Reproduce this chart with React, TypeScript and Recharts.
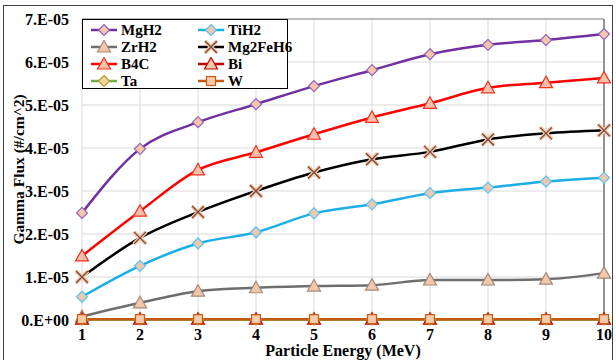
import React from 'react';
import { LineChart, Line, XAxis, YAxis, CartesianGrid, Legend, ReferenceLine } from 'recharts';

const energies = [1, 2, 3, 4, 5, 6, 7, 8, 9, 10];
const mgh2 = [2.49e-5, 3.98e-5, 4.6e-5, 5.02e-5, 5.44e-5, 5.81e-5, 6.18e-5, 6.4e-5, 6.51e-5, 6.65e-5];
const tih2 = [0.54e-5, 1.26e-5, 1.78e-5, 2.04e-5, 2.48e-5, 2.69e-5, 2.95e-5, 3.08e-5, 3.22e-5, 3.31e-5];
const zrh2 = [0.08e-5, 0.4e-5, 0.67e-5, 0.75e-5, 0.79e-5, 0.81e-5, 0.93e-5, 0.93e-5, 0.95e-5, 1.09e-5];
const mg2feh6 = [1.0e-5, 1.91e-5, 2.51e-5, 3.0e-5, 3.43e-5, 3.74e-5, 3.91e-5, 4.2e-5, 4.34e-5, 4.41e-5];
const b4c = [1.49e-5, 2.53e-5, 3.49e-5, 3.9e-5, 4.32e-5, 4.71e-5, 5.04e-5, 5.4e-5, 5.52e-5, 5.63e-5];
const bi = [2e-7, 2e-7, 2e-7, 2e-7, 2e-7, 2e-7, 2e-7, 2e-7, 2e-7, 2e-7];
const ta = [1e-7, 1e-7, 1e-7, 1e-7, 1e-7, 1e-7, 1e-7, 1e-7, 1e-7, 1e-7];
const w = [2e-7, 2e-7, 2e-7, 2e-7, 2e-7, 2e-7, 2e-7, 2e-7, 2e-7, 2e-7];

const yTicks = [0, 1e-5, 2e-5, 3e-5, 4e-5, 5e-5, 6e-5, 7e-5];
const yTickLabels = ['0.E+00', '1.E-05', '2.E-05', '3.E-05', '4.E-05', '5.E-05', '6.E-05', '7.E-05'];

type Shape = 'diamond' | 'triangle' | 'x' | 'square';

const series: { name: string; values: number[]; color: string; shape: Shape; mFill: string; mStroke: string }[] = [
  { name: 'MgH2', values: mgh2, color: '#7030A0', shape: 'diamond', mFill: '#F4C7A8', mStroke: '#9460C4' },
  { name: 'TiH2', values: tih2, color: '#1AAEE6', shape: 'diamond', mFill: '#E9C9B2', mStroke: '#5EC2EA' },
  { name: 'ZrH2', values: zrh2, color: '#6E6E6E', shape: 'triangle', mFill: '#F4C7A8', mStroke: '#A08A7C' },
  { name: 'Mg2FeH6', values: mg2feh6, color: '#000000', shape: 'x', mFill: '#F4C7A8', mStroke: '#7A4A3A' },
  { name: 'B4C', values: b4c, color: '#FF0000', shape: 'triangle', mFill: '#F8C0A8', mStroke: '#F03020' },
  { name: 'Bi', values: bi, color: '#C00000', shape: 'triangle', mFill: '#F4C7A8', mStroke: '#C00000' },
  { name: 'Ta', values: ta, color: '#70AD47', shape: 'diamond', mFill: '#F2D39B', mStroke: '#B89A30' },
  { name: 'W', values: w, color: '#C55A11', shape: 'square', mFill: '#F8CBAD', mStroke: '#C55A11' },
];

const data = energies.map((e, i) => {
  const row: Record<string, number> = { e };
  series.forEach((s) => {
    row[s.name] = s.values[i];
  });
  return row;
});

function Marker({ cx, cy, shape, fill, stroke }: { cx: number; cy: number; shape: Shape; fill: string; stroke: string }) {
  if (shape === 'diamond') {
    const r = 5.5;
    return (
      <polygon
        points={`${cx},${cy - r} ${cx + r},${cy} ${cx},${cy + r} ${cx - r},${cy}`}
        fill={fill}
        stroke={stroke}
        strokeWidth={1.2}
      />
    );
  }
  if (shape === 'triangle') {
    return (
      <polygon
        points={`${cx},${cy - 6.5} ${cx + 6.5},${cy + 5} ${cx - 6.5},${cy + 5}`}
        fill={fill}
        stroke={stroke}
        strokeWidth={1.2}
      />
    );
  }
  if (shape === 'square') {
    return <rect x={cx - 4.5} y={cy - 4.5} width={9} height={9} fill={fill} stroke={stroke} strokeWidth={1.2} />;
  }
  const r = 6;
  return (
    <g>
      <path d={`M${cx - r},${cy - r}L${cx + r},${cy + r}M${cx - r},${cy + r}L${cx + r},${cy - r}`} stroke={fill} strokeWidth={4} />
      <path d={`M${cx - r},${cy - r}L${cx + r},${cy + r}M${cx - r},${cy + r}L${cx + r},${cy - r}`} stroke={stroke} strokeWidth={1.4} />
    </g>
  );
}

const makeDot = (s: (typeof series)[number]) => (props: any) => {
  const { cx, cy, index } = props;
  if (cx == null || cy == null) return <g key={index} />;
  return <Marker key={index} cx={cx} cy={cy} shape={s.shape} fill={s.mFill} stroke={s.mStroke} />;
};

const font = "'Liberation Serif', 'Times New Roman', 'DejaVu Serif', serif";

const LegendBox = () => (
  <div
    style={{
      width: 206,
      height: 70,
      boxSizing: 'border-box',
      border: '1px solid #000',
      background: '#fff',
      position: 'relative',
      fontFamily: font,
      fontWeight: 'bold',
      fontSize: 15,
      color: '#000',
    }}
  >
    {series.map((s, i) => {
      const col = i % 2;
      const row = Math.floor(i / 2);
      return (
        <div
          key={s.name}
          style={{
            position: 'absolute',
            left: col === 0 ? 7 : 114,
            top: 2 + row * 17,
            height: 16,
            display: 'flex',
            alignItems: 'center',
            lineHeight: '16px',
          }}
        >
          <svg width={28} height={14} style={{ display: 'block' }}>
            <line x1={1} y1={7} x2={27} y2={7} stroke={s.color} strokeWidth={2.5} />
            <Marker cx={14} cy={7} shape={s.shape} fill={s.mFill} stroke={s.mStroke} />
          </svg>
          <span style={{ marginLeft: 3 }}>{s.name}</span>
        </div>
      );
    })}
  </div>
);

const YLabel = (props: any) => {
  const vb = props.viewBox || { x: 0, y: 19, width: 82, height: 301 };
  const cx = 18;
  const cy = vb.y + vb.height / 2;
  return (
    <text
      x={cx}
      y={cy}
      transform={`rotate(-90 ${cx} ${cy})`}
      textAnchor="middle"
      dominantBaseline="central"
      style={{ fontFamily: font, fontWeight: 'bold', fontSize: 15.5 }}
      fill="#000"
    >
      Gamma Flux (#/cm^2)
    </text>
  );
};

const tickStyle = { fill: '#000', fontSize: 16, fontWeight: 'bold', fontFamily: font, style: { fontFamily: font } };

export default function App() {
  return (
    <div style={{ position: 'absolute', left: 0, top: 0, width: 616, height: 360, background: '#fff', overflow: 'hidden', fontFamily: font }}>
      <div
        style={{
          position: 'absolute',
          left: 3,
          top: 5,
          width: 610,
          height: 360,
          border: '1px solid #404040',
          boxSizing: 'border-box',
        }}
      />
      <div style={{ position: 'absolute', left: 0, top: 0 }}>
        <LineChart width={616} height={360} data={data} margin={{ top: 19, right: 12, bottom: 10, left: 0 }} style={{ fontFamily: font }}>
          <CartesianGrid stroke="#D9D9D9" strokeWidth={1} />
          <XAxis
            dataKey="e"
            type="number"
            domain={[1, 10]}
            ticks={energies}
            height={30}
            axisLine={false}
            tickLine={false}
            tickSize={0}
            tickMargin={9}
            tick={tickStyle}
            label={{
              value: 'Particle Energy (MeV)',
              position: 'insideBottom',
              offset: -6,
              style: { fill: '#000', fontSize: 16, fontWeight: 'bold', fontFamily: font },
            }}
          />
          <YAxis
            type="number"
            domain={[0, 7e-5]}
            ticks={yTicks}
            width={82}
            axisLine={false}
            tickLine={false}
            tickSize={0}
            tickMargin={13}
            interval={0}
            tickFormatter={(_v: number, i: number) => yTickLabels[i]}
            tick={tickStyle}
            label={{ content: YLabel }}
          />
          <ReferenceLine y={7e-5} stroke="#8C8C8C" strokeWidth={1} ifOverflow="visible" />
          <ReferenceLine x={10} stroke="#595959" strokeWidth={1.2} ifOverflow="visible" />
          {series.map((s) => (
            <Line
              key={s.name}
              type="monotone"
              dataKey={s.name}
              stroke={s.color}
              strokeWidth={2.5}
              dot={makeDot(s)}
              activeDot={false}
              isAnimationActive={false}
            />
          ))}
          <Legend
            layout="vertical"
            align="center"
            verticalAlign="middle"
            wrapperStyle={{ left: 82, top: 19, width: 206, height: 70 }}
            content={() => <LegendBox />}
          />
        </LineChart>
      </div>
    </div>
  );
}
